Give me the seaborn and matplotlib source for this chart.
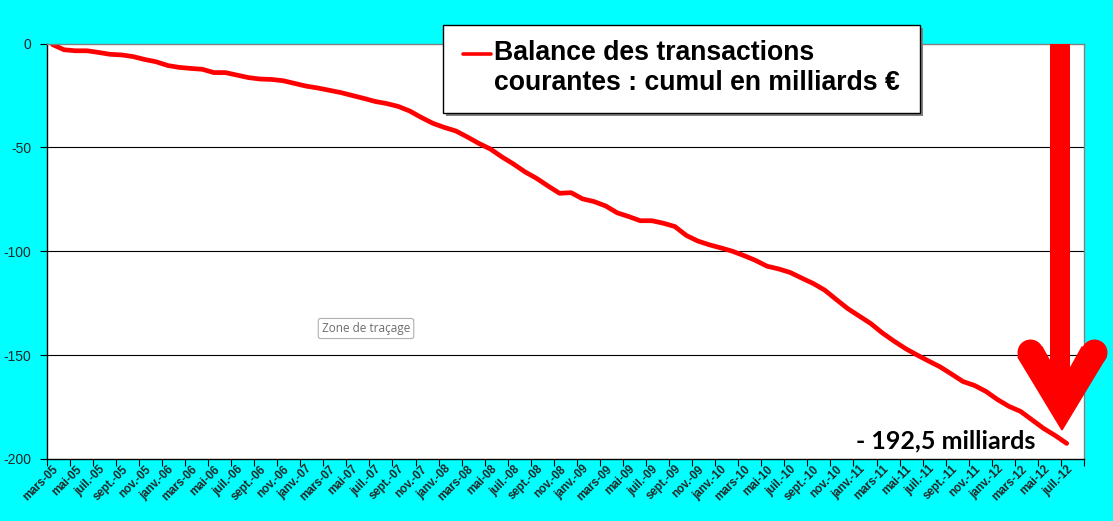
import numpy as np
import pandas as pd
import seaborn as sns
import matplotlib.pyplot as plt
from matplotlib.patches import Rectangle, Polygon
from matplotlib.lines import Line2D

# month names (French, Excel style) and first month of the series
mois = ['janv.', 'févr.', 'mars', 'avr.', 'mai', 'juin',
        'juil.', 'août', 'sept.', 'oct.', 'nov.', 'déc.']
debut_mois = 2   # mars
debut_annee = 5  # 2005

# cumulative current-account balance, billions EUR, mars-05 .. juil-12
cumul = [-0.5, -3.0, -3.5, -3.5, -4.3, -5.2, -5.5, -6.3, -7.7, -8.8,
         -10.6, -11.5, -12.0, -12.4, -14.0, -14.0, -15.2, -16.4, -17.1, -17.3,
         -17.9, -19.2, -20.5, -21.4, -22.5, -23.6, -25.0, -26.4, -27.9, -28.9,
         -30.3, -32.5, -35.6, -38.4, -40.4, -42.1, -45.0, -48.1, -50.8, -54.6,
         -58.0, -61.8, -64.9, -68.6, -72.1, -71.8, -74.8, -76.1, -78.2, -81.5,
         -83.3, -85.3, -85.3, -86.5, -88.1, -92.4, -95.1, -96.9, -98.4, -100.0,
         -102.1, -104.4, -107.2, -108.5, -110.2, -112.9, -115.5, -118.7, -123.2, -127.6,
         -131.2, -134.8, -139.3, -143.2, -146.8, -149.9, -152.8, -155.6, -159.1, -162.7,
         -164.6, -167.5, -171.4, -174.7, -177.1, -181.2, -185.3, -188.7, -192.5]

labels = []
for i in range(len(cumul)):
    m = (debut_mois + i) % 12
    a = debut_annee + (debut_mois + i) // 12
    labels.append(f"{mois[m]}-{a:02d}")

df = pd.DataFrame({'idx': np.arange(len(cumul)), 'cumul': cumul})

sns.set_theme(style="white")
plt.rcParams['font.family'] = ['Liberation Sans', 'DejaVu Sans']

fig = plt.figure(figsize=(11.13, 5.21), dpi=100, facecolor='#00FFFF')
W, H = 1113, 521
ax = fig.add_axes([46.7 / W, 1 - 459 / H, (1084 - 46.7) / W, (459 - 43.5) / H])
ax.set_facecolor('white')

sns.lineplot(data=df, x='idx', y='cumul', color='#FF0000', linewidth=3.4, ax=ax)

ax.set_xlim(-0.5, 89.5)
ax.set_ylim(-200, 0)
ax.set_xlabel('')
ax.set_ylabel('')

ax.set_yticks([0, -50, -100, -150, -200])
ax.set_yticklabels(['0', '-50', '-100', '-150', '-200'], fontsize=10)
for v in [-50, -100, -150]:
    ax.axhline(v, color='black', linewidth=0.8, zorder=1)

ax.set_xticks(np.arange(0, len(cumul), 2))
ax.set_xticklabels(labels[::2], rotation=45, ha='right', rotation_mode='anchor',
                   fontsize=8.3, fontweight='bold')
ax.set_xticks(np.arange(-0.5, 90, 2), minor=True)
ax.tick_params(axis='x', which='major', length=0, pad=3)
ax.tick_params(axis='x', which='minor', length=5, width=0.8, color='black', direction='out')
ax.tick_params(axis='y', length=5, width=0.8, color='black', direction='out', pad=6)
ax.xaxis.set_ticks_position('bottom')
ax.yaxis.set_ticks_position('left')

for s in ['left', 'bottom']:
    ax.spines[s].set_color('black')
    ax.spines[s].set_linewidth(1.0)
for s in ['top', 'right']:
    ax.spines[s].set_color('#808080')
    ax.spines[s].set_linewidth(1.0)

# big red arrow pointing to the last value: shaft + chevron head
ax.plot([87.4, 87.4], [0, -170], color='#FF0000', linewidth=14.4,
        solid_capstyle='butt', clip_on=False, zorder=5)
ax.add_patch(Polygon([[83.77, -150.9], [85.86, -146.1], [87.59, -163.4],
                      [89.33, -146.1], [91.41, -150.9], [87.59, -186.0]],
                     closed=True, color='#FF0000', clip_on=False, zorder=5))
ax.plot([84.82, 90.37], [-148.5, -148.5], linestyle='none', marker='o',
        markersize=18.7, color='#FF0000', markeredgewidth=0, clip_on=False, zorder=5)

ax.text(946 / W, 1 - 441 / H, '- 192,5 milliards', transform=fig.transFigure,
        ha='center', va='center', fontsize=18, fontweight='bold',
        family=['Lato', 'DejaVu Sans'], color='black', zorder=6)

# legend box drawn by hand (handle sits on the first text line)
fig.patches.append(Rectangle((446 / W, 1 - 116 / H), 477 / W, 88 / H,
                             transform=fig.transFigure, facecolor='#808080',
                             edgecolor='none', zorder=3))
fig.patches.append(Rectangle((443 / W, 1 - 113 / H), 477 / W, 88 / H,
                             transform=fig.transFigure, facecolor='white',
                             edgecolor='black', linewidth=1.0, zorder=4))
fig.lines.append(Line2D([463 / W, 491 / W], [1 - 54 / H, 1 - 54 / H],
                        transform=fig.transFigure, color='#FF0000', linewidth=2.6, zorder=5))
fig.text(494 / W, 1 - 40 / H, 'Balance des transactions\ncourantes : cumul en milliards €',
         ha='left', va='top', fontsize=19.2, fontweight='bold', color='black', zorder=6)

# Excel tooltip left in the screenshot
fig.text(366 / W, 1 - 328.5 / H, 'Zone de traçage', ha='center', va='center',
         fontsize=8.5, color='#6d6d6d', family=['Open Sans', 'DejaVu Sans'],
         bbox=dict(boxstyle='round,pad=0.3,rounding_size=0.2', facecolor='white',
                   edgecolor='#b0b0b0', linewidth=0.8))

fig.savefig('out.png', dpi=100, facecolor=fig.get_facecolor())
